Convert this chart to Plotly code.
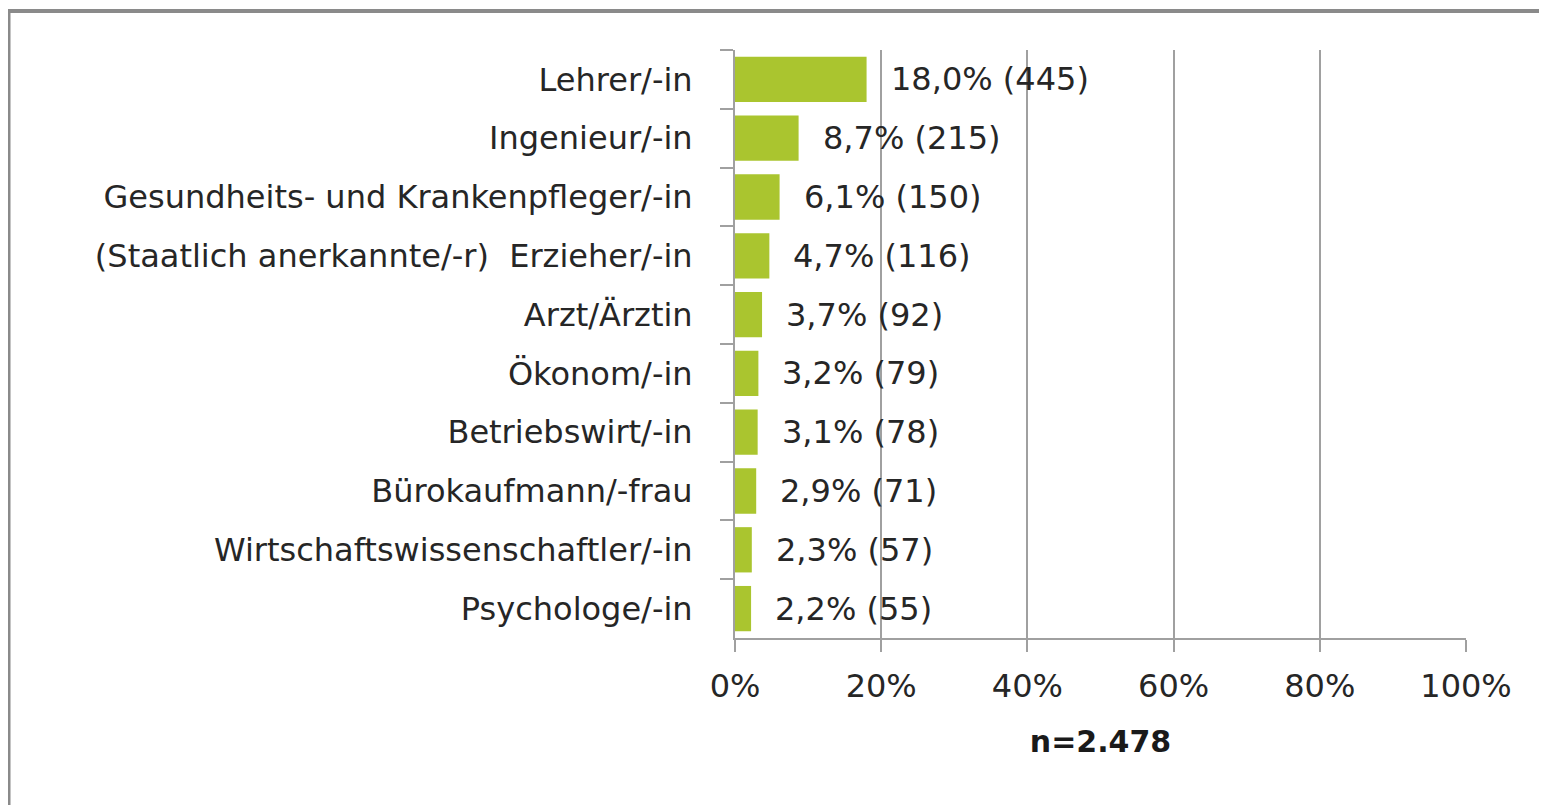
import plotly.graph_objects as go

categories = [
    "Lehrer/-in",
    "Ingenieur/-in",
    "Gesundheits- und Krankenpfleger/-in",
    "(Staatlich anerkannte/-r)  Erzieher/-in",
    "Arzt/Ärztin",
    "Ökonom/-in",
    "Betriebswirt/-in",
    "Bürokaufmann/-frau",
    "Wirtschaftswissenschaftler/-in",
    "Psychologe/-in",
]
percent = [18.0, 8.7, 6.1, 4.7, 3.7, 3.2, 3.1, 2.9, 2.3, 2.2]
counts = [445, 215, 150, 116, 92, 79, 78, 71, 57, 55]
x_ticks = [0, 20, 40, 60, 80, 100]
x_tick_labels = ["0%", "20%", "40%", "60%", "80%", "100%"]
n_label = "n=2.478"

# page has an 8px body margin, so figure coords = screen coords - 8
W, H = 1547, 805
L, R, T, B = 727, 89, 42, 175
FONT = "DejaVu Sans"
FS = 32
TXT = "#262626"
GRID = "#A0A0A0"
BAR = "#AAC52F"

fig = go.Figure()
fig.add_trace(go.Bar(
    x=percent, y=categories, orientation="h",
    marker=dict(color=BAR, line=dict(width=0)),
    hoverinfo="skip",
))

labels = [f"{p:.1f}".replace(".", ",") + f"% ({c})" for p, c in zip(percent, counts)]
for p, cat, lab in zip(percent, categories, labels):
    fig.add_annotation(x=p, y=cat, xref="x", yref="y", text=lab, showarrow=False,
                       xanchor="left", yanchor="middle", xshift=22,
                       font=dict(family=FONT, size=FS, color=TXT))

# frame (pixel positions converted to paper coords)
pw, ph = W - L - R, H - T - B
def px(v):
    return (v - L) / pw
def py(v):
    return (H - B - v) / ph
fig.add_shape(type="line", xref="paper", yref="paper", x0=px(0.5), x1=px(0.5), y0=py(3), y1=py(820),
              line=dict(color="#8A8A8A", width=4), layer="above")
fig.add_shape(type="line", xref="paper", yref="paper", x0=px(-2), x1=px(1560), y0=py(3), y1=py(3),
              line=dict(color="#8A8A8A", width=4), layer="above")

fig.update_layout(
    width=W, height=H,
    margin=dict(l=L, r=R, t=T, b=B, pad=0),
    paper_bgcolor="white", plot_bgcolor="white",
    bargap=0.23,
    showlegend=False,
    font=dict(family=FONT, size=FS, color=TXT),
    xaxis=dict(
        range=[0, 100], tickvals=x_ticks, ticktext=x_tick_labels,
        showgrid=True, gridcolor=GRID, gridwidth=2,
        showline=True, linecolor=GRID, linewidth=2,
        ticks="outside", ticklen=12, tickwidth=2, tickcolor=GRID,
        ticklabelstandoff=7,
        zeroline=False, fixedrange=True,
        tickfont=dict(family=FONT, size=FS, color=TXT),
        title=dict(text=f"<b>{n_label}</b>", font=dict(family=FONT, size=30, color="#1A1A1A"), standoff=27),
    ),
    yaxis=dict(
        autorange="reversed", type="category",
        showgrid=False, showline=True, linecolor=GRID, linewidth=2,
        ticks="outside", ticklen=13, tickwidth=2, tickcolor=GRID,
        tickson="boundaries", ticklabelstandoff=34,
        tickfont=dict(family=FONT, size=FS, color=TXT),
        fixedrange=True,
    ),
)

fig.write_html("out.html")
